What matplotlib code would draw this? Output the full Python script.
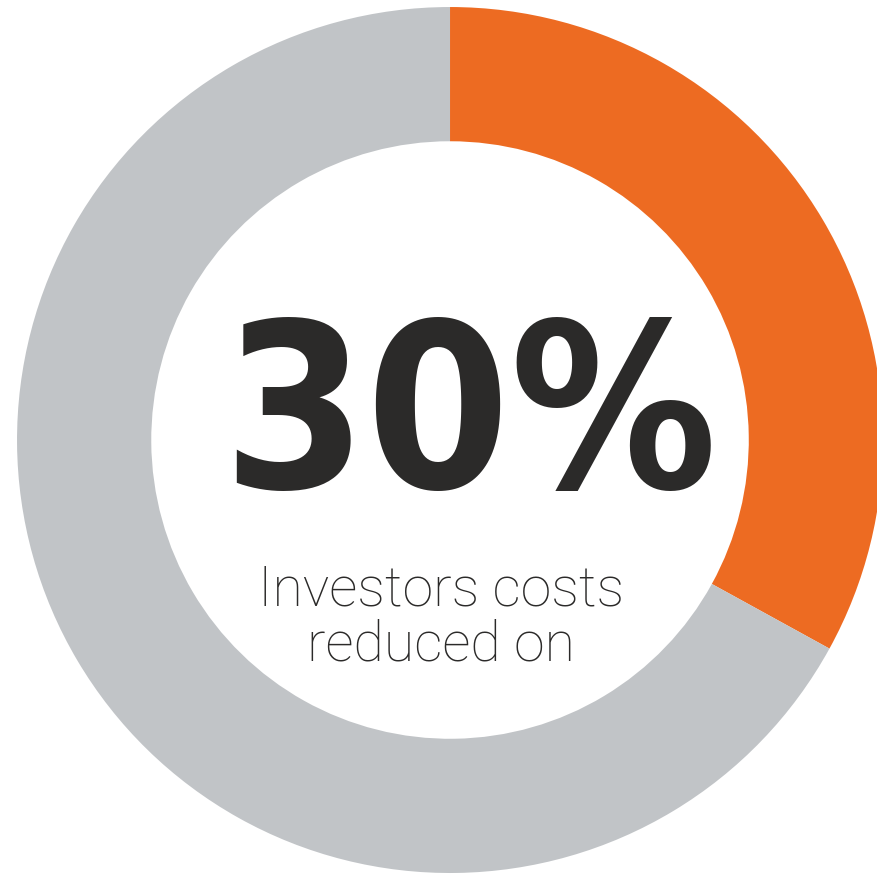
import matplotlib
matplotlib.use('Agg')
from matplotlib import pyplot as plt
from matplotlib import font_manager as fm

labels = ['Reduced', 'Rest']
values = [33, 67]
colors = ['#ed6b22', '#c1c4c7']
big_text = '30%'
sub_text = 'Investors costs\nreduced on'


def pick_condensed():
    # look for a bold narrow face, the reference uses a squarish condensed one
    for f in fm.fontManager.ttflist:
        name = f.name.lower()
        if ('narrow' in name or 'condensed' in name or f.stretch in ('condensed', 'semi-condensed')) \
                and f.weight in ('bold', 700, 'heavy', 800, 900, 'black'):
            return f.fname
    return None


fig = plt.figure(figsize=(8.78, 8.76), dpi=100)
ax = fig.add_axes([0.0194, 0.0034, 0.9863, 0.9886])
ax.pie(values, colors=colors, startangle=90, counterclock=False,
       radius=1.0, wedgeprops=dict(width=0.31, edgecolor='none'))
ax.set_xlim(-1, 1)
ax.set_ylim(-1, 1)
ax.set_aspect('equal')
ax.axis('off')

fname = pick_condensed()
if fname:
    big_font = dict(fontproperties=fm.FontProperties(fname=fname))
else:
    big_font = dict(family=['DejaVu Sans'], fontweight='bold')

big = ax.text(0.045, 0.035, big_text, ha='center', va='center', fontsize=200,
              color='#2b2a29', **big_font)

# size the big number so it spans roughly the reference width
renderer = fig.canvas.get_renderer()
w = big.get_window_extent(renderer).width
big.set_fontsize(200 * 495 / w)

ax.text(-0.02, -0.41, sub_text, ha='center', va='center', fontsize=40,
        fontweight='light', family=['Roboto', 'Lato', 'DejaVu Sans'], color='#2b2a29',
        linespacing=1.05)

fig.savefig('out.png', dpi=100)
plt.close()
